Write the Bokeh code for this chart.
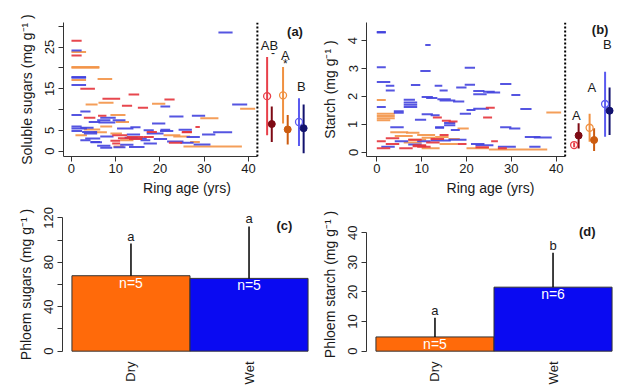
import math
from bokeh.plotting import figure
from bokeh.layouts import column, row
from bokeh.models import FixedTicker, Span, Label, Range1d
from bokeh.core.properties import value
from bokeh.embed import file_html
from bokeh.resources import INLINE

FONT = "Liberation Sans"

# ---------------- data ----------------
# Panel (a): soluble sugars per ring segment: (ring age start, ring age end, mg g-1)
a_red = [(0, 2.3, 26.5), (0, 2.3, 23.0), (2.0, 5.3, 15.0), (12.9, 15.3, 13.6), (7.0, 11.0, 12.6),
         (21.0, 23.3, 12.4), (11.4, 13.7, 10.9), (15.0, 17.3, 10.4), (6.0, 7.9, 8.5), (2.8, 5.4, 8.0),
         (28.0, 29.0, 5.8), (17.0, 19.3, 4.6), (25.0, 27.2, 4.6), (9.2, 12.6, 3.8), (12.5, 16.3, 3.4),
         (16.3, 18.6, 3.4), (8.8, 11.0, 2.5), (22.0, 25.0, 2.0), (9.2, 11.0, 1.8), (13.0, 16.0, 2.9),
         (10.5, 13.5, 3.1), (24.9, 27.2, 4.5)]
a_orange = [(0, 3.3, 23.8), (0, 6.3, 20.2), (0, 6.3, 20.0), (0, 3.3, 17.1), (5.9, 9.2, 17.3),
            (3.2, 5.9, 11.2), (6.1, 9.5, 11.6), (18.2, 21.2, 11.4), (38.1, 41.5, 10.2), (8.8, 12.2, 8.7),
            (29.1, 33.2, 7.9), (10.0, 13.0, 7.0), (6.5, 9.2, 5.9), (2.8, 6.5, 5.2), (5.0, 8.0, 4.5),
            (8.8, 11.4, 4.2), (20.8, 24.6, 3.8), (0.9, 3.5, 3.8), (23.0, 26.8, 3.5), (11.0, 14.0, 2.6),
            (26.8, 29.0, 2.2), (9.5, 11.8, 1.1), (25.3, 38.5, 1.1)]
a_blue = [(33.2, 36.4, 28.5), (0, 2.3, 24.2), (0, 3.3, 17.6), (0, 3.3, 17.8), (0, 3.3, 15.9),
          (20.1, 22.3, 10.7), (36.3, 39.7, 11.2), (0, 2.3, 8.7), (2.0, 4.3, 9.5), (22.1, 25.3, 8.3),
          (27.2, 30.2, 8.5), (6.5, 10.0, 8.0), (5.8, 8.8, 7.4), (9.3, 12.2, 7.4), (3.9, 6.5, 7.0),
          (6.1, 9.9, 6.9), (18.2, 21.2, 6.6), (0, 2.3, 5.9), (2.0, 5.0, 5.6), (13.3, 15.6, 5.7),
          (0, 3.5, 5.4), (10.3, 14.0, 5.4), (16.3, 18.6, 5.0), (20.1, 22.3, 5.1), (24.2, 27.2, 5.1),
          (0, 2.4, 4.8), (2.4, 5.8, 4.6), (20.0, 23.0, 4.8), (32.0, 36.3, 4.5), (29.5, 32.5, 4.0),
          (2.8, 5.8, 4.2), (12.5, 15.5, 4.0), (17.0, 20.8, 4.2), (6.5, 9.5, 3.5), (12.0, 15.0, 3.2),
          (13.5, 17.0, 3.0), (26.0, 29.0, 3.4), (3.1, 6.5, 3.0), (18.6, 21.6, 2.9), (15.6, 17.8, 2.6),
          (21.6, 25.3, 2.3), (4.3, 6.5, 2.2), (24.6, 27.6, 2.0), (27.6, 31.4, 1.6), (16.3, 19.3, 1.8),
          (5.8, 8.8, 1.3), (11.0, 14.0, 1.5), (6.5, 9.2, 0.8), (9.5, 12.2, 0.9), (2.0, 4.3, 2.6),
          (4.3, 6.9, 2.1), (13.0, 16.5, 1.0)]

# Panel (b): starch per ring segment
b_red = [(24.3, 26.3, 1.6), (23.7, 25.7, 1.25), (14.5, 16.5, 1.13), (12.5, 14.5, 1.25), (16, 18, 1.1),
         (25.5, 27, 0.4), (0, 2, 0.4), (0, 3, 0.15), (2, 5, 0.3), (8, 11, 0.25), (8, 11, 0.22),
         (9, 12, 0.2), (5, 8, 0.15), (11, 14, 0.35), (18, 20, 0.3), (27, 29, 0.15), (22, 25, 0.18),
         (2, 5, 0.5), (7, 10, 0.45), (12, 15, 0.48), (14, 16, 0.62)]
b_orange = [(0, 2, 1.87), (0, 4, 1.38), (0, 4, 1.3), (0, 4, 1.22), (0, 3, 1.15), (37.8, 41.1, 1.43),
            (3, 7, 0.72), (6.5, 9.5, 0.7), (4, 8, 0.58), (10, 13, 0.52), (13, 16, 0.55), (16, 18.5, 0.48),
            (18, 20.5, 0.85), (6, 10, 0.35), (7, 11, 0.45), (20, 25, 0.15), (25, 38, 0.1), (10, 14, 0.15),
            (14, 18, 0.3), (9, 13, 0.62)]
b_blue = [(0, 2, 4.31), (0, 2, 4.29), (10.8, 12.0, 3.84), (0, 2, 3.05), (9.7, 12, 2.91), (19.6, 21.9, 3.03),
          (0, 3, 2.52), (2, 3.9, 2.38), (2, 4, 2.21), (7.6, 9.7, 2.41), (12.9, 14.6, 2.38), (14, 15.8, 2.21),
          (17.7, 20, 2.32), (19.6, 21.9, 2.42), (21.5, 24, 2.2), (23.7, 26.3, 2.17), (27.5, 30, 2.45),
          (24.5, 27.5, 2.14), (21.5, 24.5, 2.08), (30, 32, 2.05), (6, 8.5, 1.88), (6, 9, 1.78), (6, 9, 1.7),
          (6, 9, 1.62), (10, 12.5, 1.98), (11, 13.5, 1.95), (13.5, 16.5, 1.9), (14, 17.5, 1.86),
          (17, 19.5, 1.82), (0, 2, 1.62), (3.8, 6, 1.47), (3.8, 6, 1.42), (8.5, 11, 1.17), (10, 12.5, 1.36),
          (12, 14, 1.33), (20, 22, 1.52), (21.5, 25, 1.56), (18.5, 21, 1.38), (32, 34.5, 1.55),
          (15, 17.5, 1.05), (15, 17.5, 0.97), (13, 15, 0.9), (13, 15, 0.88), (3, 6, 0.9), (16.5, 18.5, 0.8),
          (27.5, 30, 0.9), (29.5, 32, 0.85), (33, 36.5, 0.55), (35, 39, 0.53), (21, 24, 0.3), (27, 31, 0.2),
          (34, 36.5, 0.2), (1, 4, 0.2), (9, 12, 0.4), (12, 16.5, 0.42), (16, 20, 0.45), (7, 10, 0.28),
          (4, 7, 0.4), (22, 26, 0.25)]

# Group summaries (red open, dark red, orange open, dark orange, blue open, navy)
a_mean = [13.2, 6.5, 13.4, 5.2, 7.0, 5.5]
a_lo = [3.8, 2.2, 6.6, 1.6, 1.2, -0.5]
a_hi = [22.6, 10.7, 20.2, 8.7, 12.7, 11.2]
a_letters = ["AB", "A", "B"]
a_marks = ["-", "*", ""]

b_mean = [0.26, 0.60, 0.88, 0.44, 1.73, 1.49]
b_lo = [0.18, 0.14, 0.38, 0.05, 0.56, 0.62]
b_hi = [0.35, 1.04, 1.38, 0.86, 2.89, 2.32]
b_letters = ["A", "A", "B"]

a_yticks = [0, 5, 10, 15, 20, 25, 30]
a_ytick_labels = ["0", "5", "", "15", "", "25", ""]
b_yticks = [0, 1, 2, 3, 4]
ring_ticks = [0, 10, 20, 30, 40]

# Phloem bar panels
sites = ["Dry", "Wet"]
c_mean = [67.9, 65.5]
c_err = [96.9, 112.3]
c_letters = ["a", "a"]
c_n = ["n=5", "n=5"]
c_yticks = [0, 20, 40, 60, 80, 100, 120]
c_ytick_labels = ["0", "", "40", "", "80", "", "120"]

d_mean = [4.8, 21.6]
d_err = [11.3, 33.2]
d_letters = ["a", "b"]
d_n = ["n=5", "n=6"]
d_yticks = [0, 10, 20, 30, 40]

# ---------------- styles ----------------
SEG_COL = {"red": "#E4333B", "orange": "#F39447", "blue": "#4343DE"}
SUM_COLORS = ["#E8404A", "#7E0A14", "#F09040", "#CC5C10", "#5A5AF0", "#12126E"]
SUM_OPEN = [True, False, True, False, True, False]
BAR_COLORS = ["#FF6A0A", "#0A0AF2"]
AX_COL = "#333333"
TXT = "#1a1a1a"


def make_fig(width, height, xr, yr, mbl, mbr, mbt, mbb):
    p = figure(width=width, height=height, x_range=Range1d(*xr), y_range=Range1d(*yr),
               output_backend="svg", toolbar_location=None,
               min_border_left=mbl, min_border_right=mbr, min_border_top=mbt, min_border_bottom=mbb)
    p.outline_line_color = None
    p.grid.visible = False
    for ax in p.axis:
        ax.axis_line_color = AX_COL
        ax.major_tick_line_color = AX_COL
        ax.minor_tick_line_color = None
        ax.major_tick_out = 5
        ax.major_tick_in = 0
        ax.major_label_text_font = FONT
        ax.major_label_text_font_size = "13px"
        ax.major_label_text_color = TXT
        ax.major_label_standoff = 2
        ax.axis_label_text_font = FONT
        ax.axis_label_text_font_size = "14px"
        ax.axis_label_text_font_style = "normal"
        ax.axis_label_text_color = TXT
        ax.axis_label_standoff = 4
    p.yaxis.major_label_orientation = "parallel"
    p.yaxis.major_label_standoff = 4
    p.yaxis.axis_label_standoff = 8
    return p


def draw_segments(p, segs, color):
    p.segment(x0=[s[0] for s in segs], x1=[s[1] for s in segs],
              y0=[s[2] for s in segs], y1=[s[2] for s in segs],
              line_color=color, line_width=2, line_alpha=0.9)


def draw_summary(p, base, pair_gap, member_gap, mean, lo, hi):
    xs = [base + (i // 2) * pair_gap + (i % 2) * member_gap for i in range(len(mean))]
    p.segment(x0=xs, x1=xs, y0=lo, y1=hi, line_color=SUM_COLORS, line_width=2)
    oi = [i for i in range(len(mean)) if SUM_OPEN[i]]
    fi = [i for i in range(len(mean)) if not SUM_OPEN[i]]
    p.scatter(x=[xs[i] for i in oi], y=[mean[i] for i in oi], marker="circle", size=7,
              fill_color="white", fill_alpha=0.0, line_color=[SUM_COLORS[i] for i in oi], line_width=1.3)
    p.scatter(x=[xs[i] for i in fi], y=[mean[i] for i in fi], marker="circle", size=7,
              fill_color=[SUM_COLORS[i] for i in fi], line_color=[SUM_COLORS[i] for i in fi])
    centers = [base + g * pair_gap + member_gap / 2 for g in range(len(mean) // 2)]
    tops = [max(hi[2 * g], hi[2 * g + 1]) for g in range(len(mean) // 2)]
    return centers, tops


def scatter_panel(width, xr, yr, mbl, mbr, ylabel, yticks, ylabels, red, orange, blue, tag, tagxy):
    p = make_fig(width, 198, xr, yr, mbl, mbr, 22, 42)
    p.xaxis.ticker = FixedTicker(ticks=ring_ticks)
    p.yaxis.ticker = FixedTicker(ticks=yticks)
    p.yaxis.major_label_overrides = {t: l for t, l in zip(yticks, ylabels)}
    p.xaxis.bounds = (xr[0], 42)
    p.xaxis.axis_label = "Ring age (yrs)"
    p.yaxis.axis_label = ylabel
    draw_segments(p, orange, SEG_COL["orange"])
    draw_segments(p, blue, SEG_COL["blue"])
    draw_segments(p, red, SEG_COL["red"])
    p.add_layout(Span(location=42, dimension="height", line_color="black",
                      line_dash="2 2", line_width=2))
    p.add_layout(Label(x=tagxy[0], y=tagxy[1], text=tag, text_font=FONT, text_font_size="13px",
                       text_font_style="bold", text_align="center", text_baseline="middle",
                       text_color=TXT))
    return p


# ---------------- panel (a) ----------------
pa = scatter_panel(318, (-1.8, 54.0), (-1.3, 30.9), 63, 8, "Soluble sugars (mg g\u207b\u00b9 )",
                   a_yticks, a_ytick_labels, a_red, a_orange, a_blue, "(a)", (50.5, 28.8))
ca, ta = draw_summary(pa, 44.2, 3.6, 1.05, a_mean, a_lo, a_hi)
pa.text(x=ca, y=ta, text=a_letters, text_align="center", text_baseline="middle", y_offset=-12,
        text_font=value(FONT), text_font_size=value("13px"), text_color=TXT)
pa.text(x=ca, y=ta, text=a_marks, text_align="center", text_baseline="middle", y_offset=[-5, -3, 0],
        x_offset=[3.5, 0, 0], text_font=value(FONT), text_font_size=value("12px"), text_color=TXT)

# ---------------- panel (b) ----------------
pb = scatter_panel(304, (-2.3, 53.0), (-0.15, 4.65), 48, 8, "Starch (mg g\u207b\u00b9 )",
                   b_yticks, [str(t) for t in b_yticks], b_red, b_orange, b_blue, "(b)", (49.8, 4.39))
cb, tb = draw_summary(pb, 44.0, 3.45, 1.0, b_mean, b_lo, b_hi)
pb.text(x=cb, y=tb, text=b_letters, text_align="center", text_baseline="middle", y_offset=[-8, -26, -27],
        text_font=value(FONT), text_font_size=value("13px"), text_color=TXT)


# ---------------- bar panels ----------------
def bar_panel(width, yr, mbl, mbr, ylabel, yticks, ylabels, mean, err, letters, ns, tag, tagxy):
    p = make_fig(width, 189, (-0.08, 2.08), yr, mbl, mbr, 14, 29)
    xs = [i + 0.5 for i in range(len(sites))]
    p.xaxis.ticker = FixedTicker(ticks=xs)
    p.xaxis.major_label_overrides = {x: s for x, s in zip(xs, sites)}
    p.xaxis.major_label_orientation = math.pi / 2
    p.xaxis.axis_line_color = None
    p.xaxis.major_tick_line_color = None
    p.xaxis.major_label_standoff = 0
    p.yaxis.ticker = FixedTicker(ticks=yticks)
    p.yaxis.major_label_overrides = {t: l for t, l in zip(yticks, ylabels)}
    p.yaxis.bounds = (yticks[0], yticks[-1])
    p.yaxis.axis_label = ylabel
    p.vbar(x=xs, width=1, bottom=0, top=mean, fill_color=BAR_COLORS, line_color="#333333", line_width=1)
    p.segment(x0=xs, x1=xs, y0=mean, y1=err, line_color="black", line_width=1.5)
    p.text(x=xs, y=err, text=letters, text_align="center", text_baseline="bottom",
           text_font=value(FONT), text_font_size=value("13px"), text_color=TXT)
    p.text(x=xs, y=mean, text=ns, text_align="center", text_baseline="middle", y_offset=7,
           text_font=value(FONT), text_font_size=value("14px"), text_color="white")
    p.add_layout(Label(x=tagxy[0], y=tagxy[1], text=tag, text_font=FONT, text_font_size="13px",
                       text_font_style="bold", text_align="center", text_baseline="middle",
                       text_color=TXT))
    return p


pc = bar_panel(318, (-4.8, 124.8), 62, 1, "Phloem sugars (mg g\u207b\u00b9 )", c_yticks, c_ytick_labels,
               c_mean, c_err, c_letters, c_n, "(c)", (1.80, 113))
pd = bar_panel(304, (-1.8, 46.8), 48, 1, "Phloem starch (mg g\u207b\u00b9 )", d_yticks,
               [str(t) for t in d_yticks], d_mean, d_err, d_letters, d_n, "(d)", (1.79, 40.4))

layout = column(row(pa, pb), row(pc, pd))
open("out.html", "w").write(file_html(layout, INLINE))
